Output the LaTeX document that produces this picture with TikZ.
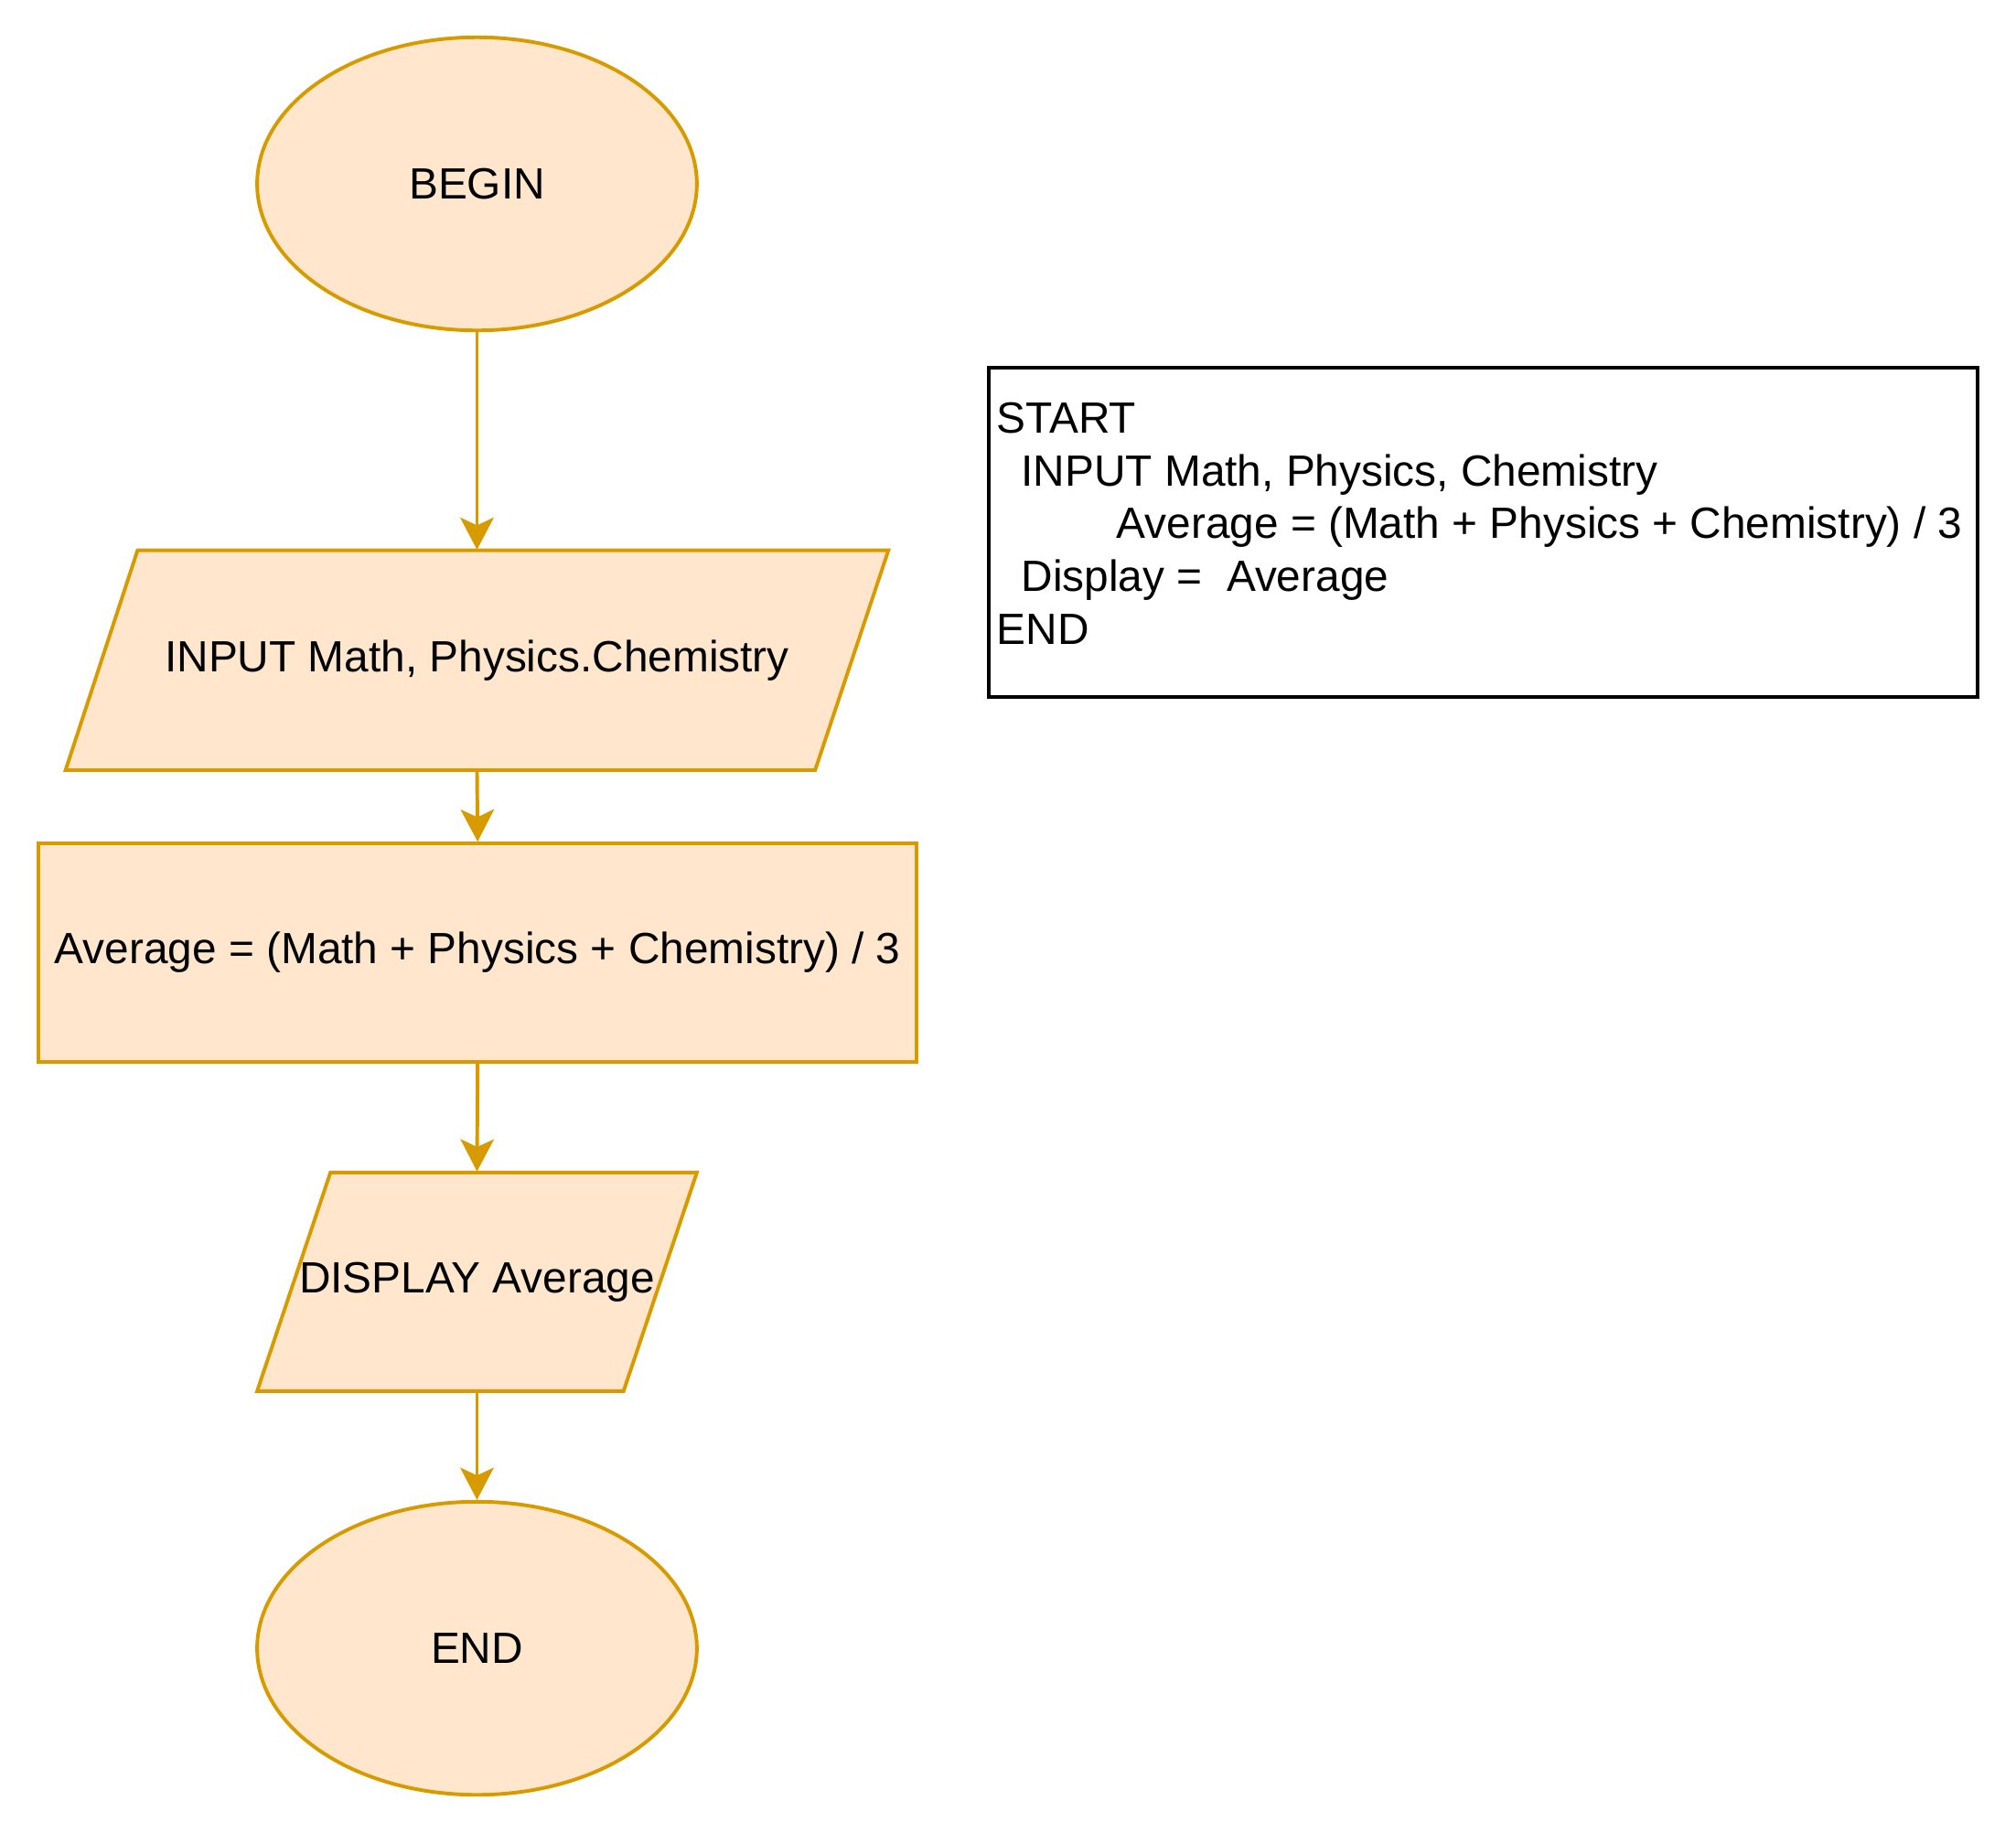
\documentclass[tikz,border=0pt]{standalone}
\usepackage{fontspec}
\setmainfont{Liberation Sans}
\usetikzlibrary{shapes.geometric,arrows.meta}
\definecolor{ofill}{HTML}{FFE6CC}
\definecolor{ostroke}{HTML}{D79B00}
\begin{document}
\begin{tikzpicture}[x=0.5pt,y=-0.5pt,
  every node/.style={font=\fontsize{17}{20.5}\selectfont, text=black},
  term/.style={ellipse, draw=ostroke, fill=ofill, line width=1.4pt, minimum width=171pt, minimum height=114pt, inner sep=0pt},
  procbox/.style={rectangle, draw=ostroke, fill=ofill, line width=1.4pt, minimum width=341.5pt, minimum height=85pt, inner sep=0pt},
  iohold/.style={rectangle, inner sep=0pt, minimum height=85.5pt},
  para/.style={draw=ostroke, fill=ofill, line width=1.4pt, line join=miter},
  flow/.style={draw=ostroke, line width=1.4pt, -{Stealth[length=12.5pt,width=13pt,inset=3pt]}},
  codebox/.style={rectangle, draw=black, line width=1.4pt, minimum width=384.5pt, minimum height=128pt, inner sep=0pt},
  codetext/.style={anchor=west, align=left, inner sep=0pt}]
\useasboundingbox (0,0) rectangle (1568,1425.7);
% terminals and process
\node[term] (begin) at (371,143) {BEGIN};
\draw[para] (107,428) -- (691,428) -- (634,599) -- (51,599) -- cycle;
\node[iohold] (input) at (371,513.5) {INPUT Math, Physics.Chemistry};
\node[procbox] (avg) at (371.5,741) {Average = (Math + Physics + Chemistry) / 3};
\draw[para] (257,912) -- (542,912) -- (485,1082) -- (200,1082) -- cycle;
\node[iohold] (disp) at (371,997) {DISPLAY Average};
\node[term] (end) at (371,1282) {END};
% connectors
\draw[flow] (begin.south) -- (input.north);
\draw[flow] (input.south) -- (avg.north);
\draw[flow] (avg.south) -- (disp.north);
\draw[flow] (disp.south) -- (end.north);
% pseudocode box
\node[codebox] (box) at (1153.5,414) {};
\node[codetext] (code) at (775,407) {START\\
\hspace*{9.5pt}INPUT Math, Physics, Chemistry\\
\hspace*{46.5pt}Average = (Math + Physics + Chemistry) / 3\\
\hspace*{9.5pt}Display = \ Average\\
END};
\end{tikzpicture}
\end{document}
